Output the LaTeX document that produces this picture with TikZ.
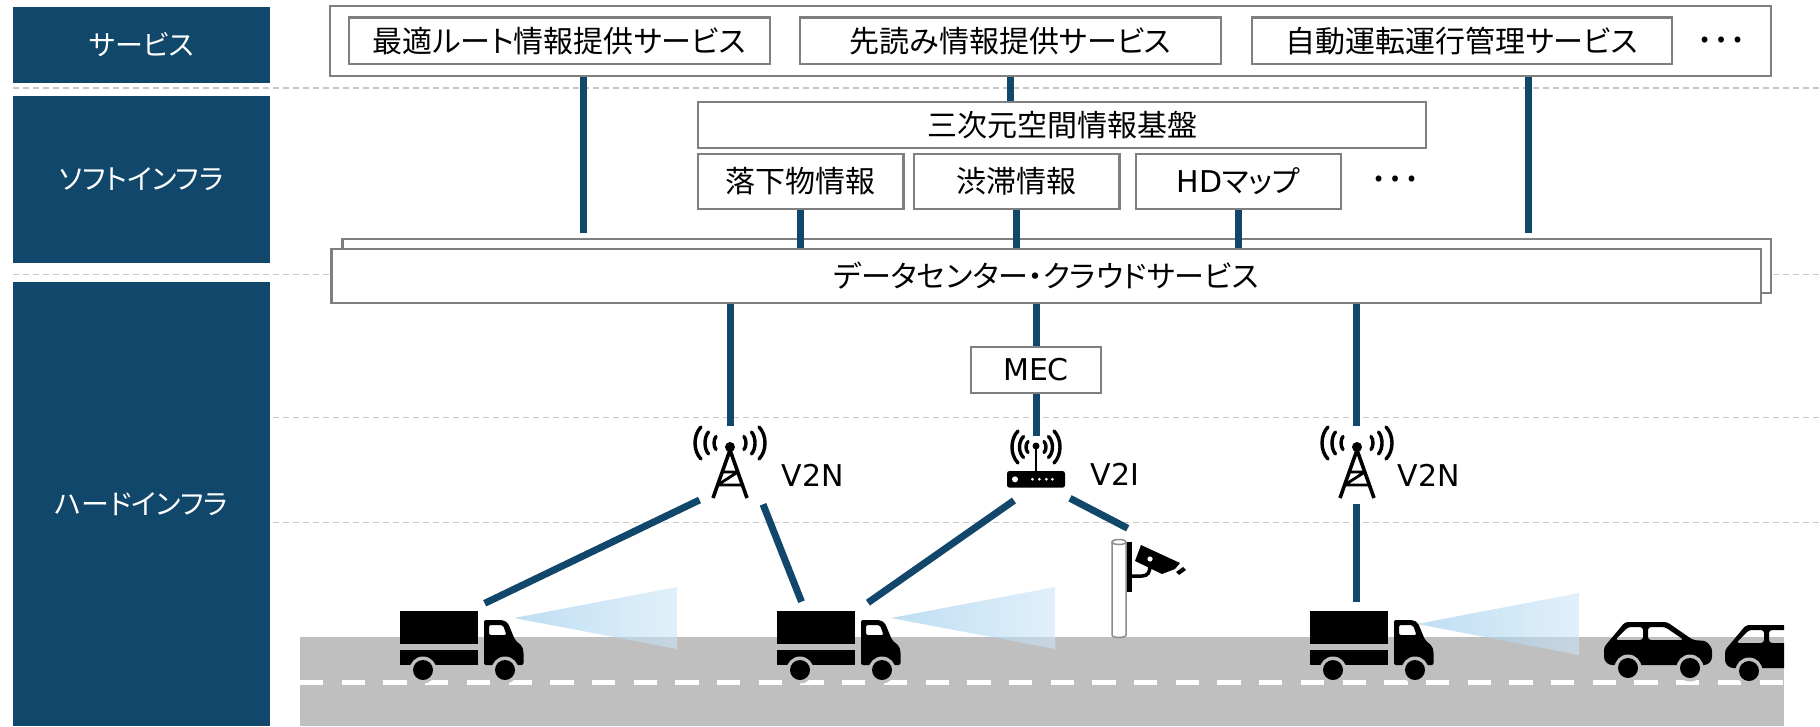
\documentclass[tikz,border=0pt]{standalone}
\usepackage{fontspec}
\setmainfont{Noto Sans CJK JP}[RawFeature=+palt]
\newfontfamily\lat{DejaVu Sans}
\definecolor{navy}{HTML}{11476A}
\definecolor{boxgray}{HTML}{7F7F7F}
\definecolor{sepgray}{HTML}{C8C8C8}
\definecolor{road}{HTML}{BFBFBF}
\definecolor{polegray}{HTML}{8C8C8C}
\definecolor{beamL}{RGB}{147,200,233}
\definecolor{beamR}{RGB}{205,230,247}
\newcommand\fsA{\fontsize{28}{32}\selectfont}
\newcommand\fsB{\fontsize{30}{36}\selectfont}
\newcommand\fsC{\fontsize{30}{36}\selectfont\lat}
\newcommand\fsD{\fontsize{44}{48}\selectfont}

\tikzset{
  lbl/.style={fill=navy, text=white, inner sep=0pt, font=\fsA},
  gbox/.style={draw=boxgray, line width=2.3pt, fill=white, inner sep=0pt, font=\fsB},
  link/.style={draw=navy, line width=7pt},
  sep/.style={draw=sepgray, line width=1.3pt, dash pattern=on 6pt off 4pt},
  wave/.style={draw=black, line width=3.4pt, line cap=round},
  beam/.style={left color=beamL, right color=beamR, opacity=0.6},
  more/.style={font=\fsD, inner sep=0pt},
  % radio waves on both sides of an antenna tip
  radio/.pic={
    \foreach \d/\h/\k in {#1}{
      \draw[wave] (\d-\k,-\h) .. controls (\d+\k/3,-\h/2) and (\d+\k/3,\h/2) .. (\d-\k,\h);
      \draw[wave] (-\d+\k,-\h) .. controls (-\d-\k/3,-\h/2) and (-\d-\k/3,\h/2) .. (-\d+\k,\h);
    }
  },
  % lattice mast with antenna dot on top
  tower/.pic={
    \pic at (0,-4) {radio={35/16/6,25/11/3.5,16/6.5/2}};
    \fill (0,0) circle[radius=5];
    \draw[line width=3.6pt, line join=round] (-17,51) -- (0,3) -- (17,51);
    \draw[line width=2.8pt, line join=round] (-7.8,25) -- (7.8,25) -- (-12.4,38) -- (12.4,38);
  },
  % wireless router
  router/.pic={
    \pic at (0,-32) {radio={24/16/6,16.5/10.5/4,10/5.5/2}};
    \fill[rounded corners=2.5pt] (-29,-8) rectangle (29,8.7);
    \draw[line width=2.5pt] (0,-8) -- (0,-33);
    \fill (0,-33) circle[radius=3.5];
    \fill[white] (-21,0.3) circle[radius=3];
    \foreach \x in {-3.7,3.3,10.3,16.3} \fill[white] (\x,0.3) circle[radius=1.5];
  },
  truck/.pic={
    \fill (0,0) rectangle (78,33);
    \fill (0,39) rectangle (78,54);
    \fill[even odd rule, rounded corners=2pt]
      (84,9) -- (103,9) -- (108,12) -- (115,29) -- (122,35) -- (123.5,40) -- (123.5,54) -- (84,54) -- cycle
      (89,14) -- (103,14) -- (106.5,24) -- (89,24) -- cycle;
    \fill[road] (23,59) circle[radius=13.5] (105,59) circle[radius=13.5];
    \fill (23,59) circle[radius=10] (105,59) circle[radius=10];
  },
  car/.pic={
    \fill[even odd rule, rounded corners=3pt]
      (21,0) -- (63,0) -- (89,18) -- (102,19) -- (108,26) -- (108,38) -- (103,43) -- (5,43) -- (0,38) -- (0,25) -- (6,18) -- cycle
      (11,18) -- (24,5) -- (39,5) -- (39,18) -- cycle
      (44,5) -- (61,5) -- (80,18) -- (44,18) -- cycle;
    \fill[road] (24,46) circle[radius=13.5] (86,46) circle[radius=13.5];
    \fill (24,46) circle[radius=10] (86,46) circle[radius=10];
  }
}

\begin{document}
\begin{tikzpicture}[x=1pt, y=-1pt, font=\fsB]
\useasboundingbox (0,0) rectangle (1820,726);

% layer separators
\foreach \yy in {88,274.5,417.3,522.3}
  \draw[sep] (13,\yy) -- (1820,\yy);

% layer labels
\node[lbl, minimum width=257pt, minimum height=76pt]  (Lsvc)  at (141.5,45)    {サービス};
\node[lbl, minimum width=257pt, minimum height=167pt] (Lsoft) at (141.5,179.5) {ソフトインフラ};
\node[lbl, minimum width=257pt, minimum height=444pt] (Lhard) at (141.5,504)   {ハードインフラ};

% services
\node[gbox, minimum width=1441pt, minimum height=70pt] (svc) at (1050.5,40.7) {};
\node[gbox, minimum width=421pt, minimum height=46.7pt] (s1) at (559.5,40.7) {最適ルート情報提供サービス};
\node[gbox, minimum width=421pt, minimum height=46.7pt] (s2) at (1010.5,40.7) {先読み情報提供サービス};
\node[gbox, minimum width=420pt, minimum height=46.7pt] (s3) at (1462,40.7) {自動運転運行管理サービス};
\node[more] (sdots) at (1721,40) {…};

% soft infrastructure
\node[gbox, minimum width=728pt, minimum height=46pt] (geo) at (1062,124.7) {三次元空間情報基盤};
\node[gbox, minimum width=205.6pt, minimum height=54.7pt] (fall) at (800.8,181.3) {落下物情報};
\node[gbox, minimum width=205.5pt, minimum height=54.7pt] (jam)  at (1016.7,181.3) {渋滞情報};
\node[gbox, minimum width=205pt, minimum height=54.7pt]   (hd)   at (1238.5,181.3) {{\lat HD}マップ};
\node[more] (idots) at (1395,179) {…};

% data center / cloud
\node[gbox, minimum width=1428.6pt, minimum height=54pt] (dcb) at (1056.7,266.3) {};
\node[gbox, minimum width=1429.6pt, minimum height=53.4pt] (dc) at (1046.2,276) {データセンター・クラウドサービス};

\coordinate (e1) at (583,233);
\coordinate (e3) at (1528,233);
\draw[link] (svc.south -| e1) -- (e1);
\draw[link] (svc.south -| e3) -- (e3);
\draw[link] (s2.south |- svc.south) -- (s2.south |- geo.north);
\draw[link] (fall.south) -- (fall.south |- dc.north);
\draw[link] (jam.south) -- (jam.south |- dc.north);
\draw[link] (hd.south) -- (hd.south |- dc.north);

% MEC
\node[gbox, minimum width=130pt, minimum height=46.6pt] (mec) at (1036,370) {\lat MEC};

% road
\fill[road] (300,637) rectangle (1784,726);
\draw[white, line width=5pt, dash pattern=on 23.3pt off 18.4pt] (300,682.5) -- (1784,682.5);

% sensing beams
\shade[beam] (514,618) -- (677,587) -- (677,649) -- cycle;
\shade[beam] (891,618) -- (1055,587) -- (1055,649) -- cycle;
\shade[beam] (1417,624) -- (1579,593) -- (1579,655) -- cycle;

% vehicles
\pic at (400,611) {truck};
\pic at (777,611) {truck};
\pic at (1310,611) {truck};
\pic at (1604,622) {car};
\begin{scope}
  \clip (1700,600) rectangle (1784,700);
  \pic at (1725,625) {car};
\end{scope}

% roadside camera
\draw[draw=polegray, fill=white, line width=1.5pt] (1112,542) -- (1112,635) arc[start angle=180, end angle=360, x radius=7pt, y radius=2.5pt] -- (1126,542);
\draw[draw=polegray, fill=white, line width=1.5pt] (1119,542) ellipse [x radius=7, y radius=2.5];
\fill (1126.5,542) rectangle (1131.5,592);
\draw[line width=3.5pt] (1131,576) -- (1142,576) .. controls (1148,576) and (1150,572) .. (1150,565);
\fill (1135,561) -- (1141,545) -- (1180,563) -- (1175,569) -- (1162,574) -- cycle;
\fill[white] (1150,559) circle[radius=2.6];
\fill (1176,572) -- (1183,567) -- (1186,570) -- (1179,575) -- cycle;
\coordinate (cam) at (1127.7,528.3);

% antennas
\coordinate (t1) at (730,447);
\coordinate (t3) at (1357,447);
\coordinate (rt) at (1036,479);
\pic at (t1) {tower};
\pic at (t3) {tower};
\pic at (rt) {router};
\node[font=\fsC] (v2n1) at (813,475) {V2N};
\node[font=\fsC] (v2i)  at (1115,474) {V2I};
\node[font=\fsC] (v2n3) at (1429,475) {V2N};

% links down to the antennas
\coordinate (t1top) at (730,425.7);
\coordinate (t3top) at (1356,425.7);
\coordinate (rttop) at (1036,436);
\draw[link] (dc.south -| t1top) -- (t1top);
\draw[link] (dc.south -| t3top) -- (t3top);
\draw[link] (dc.south -| mec.north) -- (mec.north);
\draw[link] (mec.south) -- (rttop);

% radio links to vehicles and camera
\coordinate (t1a) at (699.5,500);
\coordinate (t1b) at (763,504.3);
\coordinate (rta) at (1014,500.5);
\coordinate (rtb) at (1070,498.3);
\coordinate (t3a) at (1356,504.3);
\coordinate (v1) at (484.7,603.3);
\coordinate (v2a) at (801.5,601.7);
\coordinate (v2b) at (867.9,602.7);
\coordinate (v3) at (1356,601.7);
\draw[link] (t1a) -- (v1);
\draw[link] (t1b) -- (v2a);
\draw[link] (rta) -- (v2b);
\draw[link] (rtb) -- (cam);
\draw[link] (t3a) -- (v3);
\end{tikzpicture}
\end{document}
